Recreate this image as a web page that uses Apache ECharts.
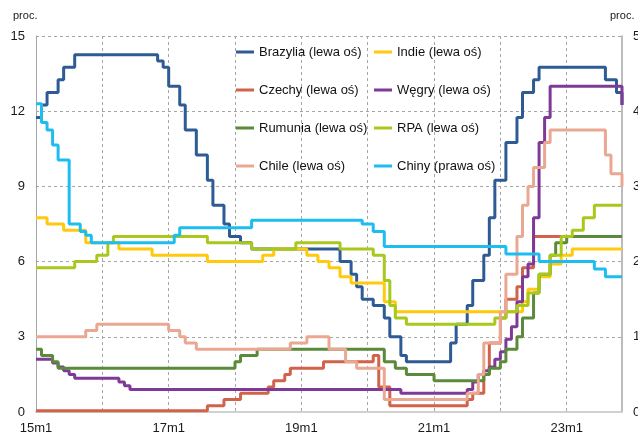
<!DOCTYPE html>
<html>
<head>
<meta charset="utf-8">
<script src="https://cdn.jsdelivr.net/npm/echarts@6/dist/echarts.min.js"></script>
<style>
html,body{margin:0;padding:0;background:#fff;}
#c{width:638px;height:438px;}
</style>
</head>
<body>
<div id="c"></div>
<script>
// Categories: monthly, 15m1 .. 23m11
const years = [15,16,17,18,19,20,21,22,23];
const categories = [];
years.forEach(y => { for (let m = 1; m <= 12; m++) categories.push(y + 'm' + m); });
categories.length = 107;

const leftTicks = [0,3,6,9,12,15];
const rightTicks = [0,1,2,3,4,5];

const seriesNames = ['Brazylia (lewa oś)','Indie (lewa oś)','Czechy (lewa oś)','Węgry (lewa oś)',
                     'Rumunia (lewa oś)','RPA (lewa oś)','Chile (lewa oś)','Chiny (prawa oś)'];

const brazylia = [
 11.75,12.25,12.75,12.75,13.25,13.75,13.75,14.25,14.25,14.25,14.25,14.25,
 14.25,14.25,14.25,14.25,14.25,14.25,14.25,14.25,14.25,14.25,14.0,13.75,
 13.0,13.0,12.25,11.25,11.25,10.25,10.25,9.25,8.25,8.25,7.5,7.0,
 7.0,6.75,6.75,6.5,6.5,6.5,6.5,6.5,6.5,6.5,6.5,6.5,
 6.5,6.5,6.5,6.5,6.5,6.5,6.5,6.0,6.0,5.5,5.0,4.5,
 4.5,4.25,4.25,3.75,3.0,3.0,2.25,2.0,2.0,2.0,2.0,2.0,
 2.0,2.0,2.0,2.75,3.5,3.5,4.25,5.25,5.25,6.25,7.75,9.25,
 9.25,10.75,10.75,11.75,12.75,12.75,13.25,13.75,13.75,13.75,13.75,13.75,
 13.75,13.75,13.75,13.75,13.75,13.75,13.75,13.25,13.25,12.75,12.25
];
const indie = [
 7.75,7.75,7.5,7.5,7.5,7.25,7.25,7.25,7.25,6.75,6.75,6.75,
 6.75,6.75,6.75,6.5,6.5,6.5,6.5,6.5,6.5,6.25,6.25,6.25,
 6.25,6.25,6.25,6.25,6.25,6.25,6.25,6.0,6.0,6.0,6.0,6.0,
 6.0,6.0,6.0,6.0,6.0,6.25,6.25,6.5,6.5,6.5,6.5,6.5,
 6.5,6.25,6.25,6.0,6.0,5.75,5.75,5.4,5.4,5.15,5.15,5.15,
 5.15,5.15,5.15,4.4,4.4,4.0,4.0,4.0,4.0,4.0,4.0,4.0,
 4.0,4.0,4.0,4.0,4.0,4.0,4.0,4.0,4.0,4.0,4.0,4.0,
 4.0,4.0,4.0,4.0,4.4,4.9,4.9,5.4,5.4,5.9,5.9,6.25,
 6.25,6.5,6.5,6.5,6.5,6.5,6.5,6.5,6.5,6.5,6.5
];
const czechy = [
 0.05,0.05,0.05,0.05,0.05,0.05,0.05,0.05,0.05,0.05,0.05,0.05,
 0.05,0.05,0.05,0.05,0.05,0.05,0.05,0.05,0.05,0.05,0.05,0.05,
 0.05,0.05,0.05,0.05,0.05,0.05,0.05,0.25,0.25,0.25,0.5,0.5,
 0.5,0.75,0.75,0.75,0.75,0.75,1.0,1.25,1.25,1.5,1.75,1.75,
 1.75,1.75,1.75,1.75,2.0,2.0,2.0,2.0,2.0,2.0,2.0,2.0,
 2.0,2.25,1.0,1.0,0.25,0.25,0.25,0.25,0.25,0.25,0.25,0.25,
 0.25,0.25,0.25,0.25,0.25,0.25,0.5,0.75,0.75,1.5,2.75,2.75,
 3.75,4.5,4.5,5.0,5.75,5.75,7.0,7.0,7.0,7.0,7.0,7.0,
 7.0,7.0,7.0,7.0,7.0,7.0,7.0,7.0,7.0,7.0,7.0
];
const wegry = [
 2.1,2.1,2.1,1.95,1.8,1.65,1.5,1.35,1.35,1.35,1.35,1.35,
 1.35,1.35,1.35,1.2,1.05,0.9,0.9,0.9,0.9,0.9,0.9,0.9,
 0.9,0.9,0.9,0.9,0.9,0.9,0.9,0.9,0.9,0.9,0.9,0.9,
 0.9,0.9,0.9,0.9,0.9,0.9,0.9,0.9,0.9,0.9,0.9,0.9,
 0.9,0.9,0.9,0.9,0.9,0.9,0.9,0.9,0.9,0.9,0.9,0.9,
 0.9,0.9,0.9,0.9,0.9,0.9,0.75,0.75,0.75,0.75,0.75,0.75,
 0.75,0.75,0.75,0.75,0.75,0.75,0.9,1.2,1.5,1.65,1.8,2.1,
 2.4,2.9,3.4,4.4,5.4,5.9,7.75,10.75,11.75,13.0,13.0,13.0,
 13.0,13.0,13.0,13.0,13.0,13.0,13.0,13.0,13.0,13.0,12.25
];
const rumunia = [
 2.5,2.25,2.25,2.0,1.75,1.75,1.75,1.75,1.75,1.75,1.75,1.75,
 1.75,1.75,1.75,1.75,1.75,1.75,1.75,1.75,1.75,1.75,1.75,1.75,
 1.75,1.75,1.75,1.75,1.75,1.75,1.75,1.75,1.75,1.75,1.75,1.75,
 2.0,2.25,2.25,2.25,2.5,2.5,2.5,2.5,2.5,2.5,2.5,2.5,
 2.5,2.5,2.5,2.5,2.5,2.5,2.5,2.5,2.5,2.5,2.5,2.5,
 2.5,2.5,2.5,2.0,2.0,1.75,1.75,1.5,1.5,1.5,1.5,1.5,
 1.25,1.25,1.25,1.25,1.25,1.25,1.25,1.25,1.25,1.5,1.75,1.75,
 2.0,2.5,2.5,3.0,3.75,3.75,4.75,5.5,5.5,6.25,6.75,6.75,
 7.0,7.0,7.0,7.0,7.0,7.0,7.0,7.0,7.0,7.0,7.0
];
const rpa = [
 5.75,5.75,5.75,5.75,5.75,5.75,5.75,6.0,6.0,6.0,6.0,6.25,
 6.25,6.75,7.0,7.0,7.0,7.0,7.0,7.0,7.0,7.0,7.0,7.0,
 7.0,7.0,7.0,7.0,7.0,7.0,7.0,6.75,6.75,6.75,6.75,6.75,
 6.75,6.75,6.75,6.5,6.5,6.5,6.5,6.5,6.5,6.5,6.5,6.75,
 6.75,6.75,6.75,6.75,6.75,6.75,6.75,6.5,6.5,6.5,6.5,6.5,
 6.5,6.25,6.25,5.25,4.25,3.75,3.75,3.5,3.5,3.5,3.5,3.5,
 3.5,3.5,3.5,3.5,3.5,3.5,3.5,3.5,3.5,3.5,3.5,3.75,
 3.75,4.0,4.0,4.25,4.25,4.75,4.75,5.5,5.5,6.25,6.25,7.0,
 7.0,7.25,7.25,7.75,7.75,8.25,8.25,8.25,8.25,8.25,8.25
];
const chile = [
 3.0,3.0,3.0,3.0,3.0,3.0,3.0,3.0,3.0,3.25,3.25,3.5,
 3.5,3.5,3.5,3.5,3.5,3.5,3.5,3.5,3.5,3.5,3.5,3.5,
 3.25,3.25,3.0,2.75,2.75,2.5,2.5,2.5,2.5,2.5,2.5,2.5,
 2.5,2.5,2.5,2.5,2.5,2.5,2.5,2.5,2.5,2.5,2.75,2.75,
 2.75,3.0,3.0,3.0,3.0,2.5,2.5,2.5,2.0,2.0,1.75,1.75,
 1.75,1.75,1.75,0.5,0.5,0.5,0.5,0.5,0.5,0.5,0.5,0.5,
 0.5,0.5,0.5,0.5,0.5,0.5,0.75,0.75,1.5,2.75,2.75,2.75,
 4.0,5.5,5.5,7.0,8.25,9.0,9.75,9.75,10.75,11.25,11.25,11.25,
 11.25,11.25,11.25,11.25,11.25,11.25,11.25,10.25,9.5,9.5,9.0
];
const chiny = [
 4.1,3.85,3.75,3.55,3.35,3.35,2.5,2.5,2.4,2.35,2.25,2.25,
 2.25,2.25,2.25,2.25,2.25,2.25,2.25,2.25,2.25,2.25,2.25,2.25,
 2.25,2.35,2.45,2.45,2.45,2.45,2.45,2.45,2.45,2.45,2.45,2.45,
 2.45,2.45,2.45,2.55,2.55,2.55,2.55,2.55,2.55,2.55,2.55,2.55,
 2.55,2.55,2.55,2.55,2.55,2.55,2.55,2.55,2.55,2.55,2.55,2.5,
 2.5,2.4,2.4,2.2,2.2,2.2,2.2,2.2,2.2,2.2,2.2,2.2,
 2.2,2.2,2.2,2.2,2.2,2.2,2.2,2.2,2.2,2.2,2.2,2.2,
 2.2,2.1,2.1,2.1,2.1,2.1,2.1,2.0,2.0,2.0,2.0,2.0,
 2.0,2.0,2.0,2.0,2.0,1.9,1.9,1.8,1.8,1.8,1.8
];

const colors = ['#2E5B94','#FFC90E','#D0634A','#7E3A96','#5B8A3A','#A8C81C','#EAA792','#1EBDF0'];
const dataSets = [brazylia, indie, czechy, wegry, rumunia, rpa, chile, chiny];

const chart = echarts.init(document.getElementById('c'), null, {renderer: 'canvas'});
const font = '"Liberation Sans", Arial, sans-serif';

const series = seriesNames.map((n, i) => ({
  name: n,
  type: 'line',
  step: 'end',
  symbol: 'none',
  yAxisIndex: i === 7 ? 1 : 0,
  data: dataSets[i],
  color: colors[i],
  lineStyle: {width: 3, color: colors[i]},
  z: 2 + i,
  animation: false
}));

const legendBase = {
  orient: 'vertical',
  icon: 'path://M0,0 L18,0 L18,3 L0,3 Z',
  itemWidth: 18,
  itemHeight: 14,
  itemGap: 24,
  top: 40,
  padding: 5,
  textStyle: {fontSize: 13, color: '#111', fontFamily: font, lineHeight: 14},
  selectedMode: false
};

chart.setOption({
  backgroundColor: '#fff',
  animation: false,
  textStyle: {fontFamily: font},
  grid: {left: 36, right: 16, top: 36, bottom: 26, containLabel: false, outerBoundsMode: 'none'},
  legend: [
    Object.assign({}, legendBase, {left: 231, data: [seriesNames[0], seriesNames[2], seriesNames[4], seriesNames[6]]}),
    Object.assign({}, legendBase, {left: 369, data: [seriesNames[1], seriesNames[3], seriesNames[5], seriesNames[7]]})
  ],
  xAxis: {
    type: 'category',
    data: categories,
    boundaryGap: false,
    axisLine: {show: true, lineStyle: {color: '#D0D0D0', width: 2}},
    axisTick: {show: false},
    axisLabel: {interval: 23, fontSize: 13, color: '#1a1a1a', margin: 10, fontFamily: font},
    splitLine: {show: true, interval: 11, lineStyle: {type: [3, 3], color: '#A6A6A6', width: 1}}
  },
  yAxis: [
    {
      type: 'value', min: leftTicks[0], max: leftTicks[leftTicks.length - 1], interval: 3,
      axisLine: {show: true, lineStyle: {color: '#A6A6A6', width: 1}},
      axisTick: {show: false},
      axisLabel: {fontSize: 13, color: '#1a1a1a', margin: 11, fontFamily: font},
      splitLine: {show: true, lineStyle: {type: [3, 3], color: '#A6A6A6', width: 1}}
    },
    {
      type: 'value', position: 'right', min: rightTicks[0], max: rightTicks[rightTicks.length - 1], interval: 1,
      axisLine: {show: true, lineStyle: {color: '#A6A6A6', width: 1.5}},
      axisTick: {show: false},
      axisLabel: {fontSize: 13, color: '#1a1a1a', margin: 11, fontFamily: font},
      splitLine: {show: false}
    }
  ],
  graphic: [
    {type: 'text', left: 13, top: 10, style: {text: 'proc.', fill: '#1a1a1a', font: '11px "Liberation Sans", Arial, sans-serif'}},
    {type: 'text', left: 610, top: 10, style: {text: 'proc.', fill: '#1a1a1a', font: '11px "Liberation Sans", Arial, sans-serif'}}
  ],
  series: series
});
</script>
</body>
</html>
